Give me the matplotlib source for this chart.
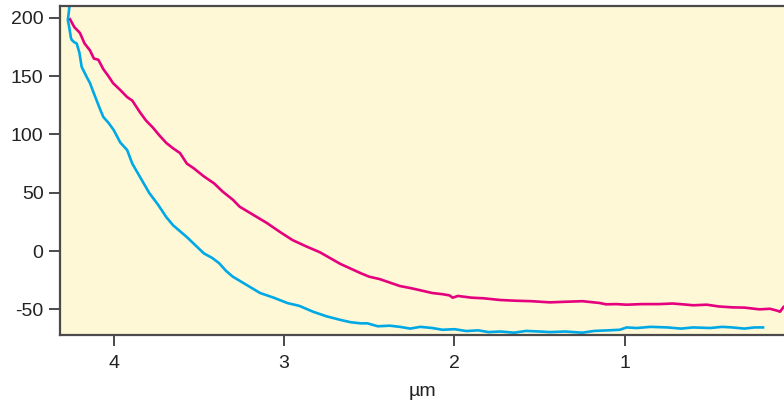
import matplotlib
matplotlib.use("Agg")
import matplotlib.pyplot as plt

plt.rcParams['font.family'] = ['Liberation Sans', 'DejaVu Sans']
plt.rcParams['axes.unicode_minus'] = False

# profile traces, distance in um vs height
magenta_x = [4.255, 4.23, 4.197, 4.17, 4.138, 4.115, 4.089, 4.06, 4.03, 4.003,
             3.96, 3.92, 3.89, 3.845, 3.81, 3.77, 3.73, 3.69, 3.65, 3.61,
             3.57, 3.53, 3.47, 3.41, 3.36, 3.30, 3.26, 3.18, 3.10, 3.02,
             2.95, 2.87, 2.79, 2.73, 2.67, 2.61, 2.55, 2.50, 2.44, 2.38,
             2.32, 2.25, 2.19, 2.13, 2.07, 2.03, 2.01, 1.98, 1.90, 1.83,
             1.73, 1.64, 1.55, 1.44, 1.35, 1.25, 1.15, 1.11, 1.05, 0.99,
             0.90, 0.80, 0.72, 0.66, 0.60, 0.52, 0.45, 0.37, 0.30, 0.21,
             0.15, 0.11, 0.09, 0.07]
magenta_y = [198.7, 192, 187, 178, 172, 165, 164, 156, 150, 144,
             138, 132, 129, 119, 112, 106, 99, 92.6, 88, 84,
             75, 71, 64, 58, 51, 44, 38, 31, 24, 16,
             9.4, 4, -1, -6, -11, -15, -19, -22, -24, -27,
             -30, -32, -34, -36, -37, -38, -40, -38.5, -40, -40.5,
             -42, -42.6, -43, -44, -43.5, -43, -44.5, -45.7, -45.5, -46,
             -45.5, -45.5, -45, -45.7, -46.5, -46, -47.5, -48.3, -48.5, -50,
             -49.5, -51, -52, -48]

cyan_x = [4.255, 4.262, 4.268, 4.26, 4.25, 4.245, 4.23, 4.216, 4.20, 4.187,
          4.16, 4.138, 4.12, 4.10, 4.08, 4.06, 4.03, 4.00, 3.96, 3.92,
          3.89, 3.845, 3.79, 3.74, 3.69, 3.65, 3.61, 3.57, 3.52, 3.47,
          3.42, 3.38, 3.34, 3.30, 3.22, 3.14, 3.06, 2.98, 2.91, 2.83,
          2.75, 2.67, 2.61, 2.55, 2.51, 2.45, 2.38, 2.32, 2.26, 2.20,
          2.13, 2.07, 2.00, 1.93, 1.86, 1.80, 1.73, 1.65, 1.58, 1.50,
          1.44, 1.35, 1.25, 1.18, 1.10, 1.03, 0.99, 0.93, 0.85, 0.75,
          0.67, 0.60, 0.50, 0.43, 0.37, 0.30, 0.24, 0.19]
cyan_y = [215, 205, 198, 192, 183, 181, 179, 178, 170, 158,
          150, 144, 137, 129.5, 122, 115, 110, 104, 93, 86.6,
          75, 63.6, 49.7, 40, 29, 22, 17, 12, 5, -2,
          -6, -10.5, -17, -22, -29, -36, -40, -44.6, -47, -52,
          -56, -59, -61, -62, -62, -64.5, -64, -65, -66.5, -65,
          -66, -67.5, -67, -68.6, -68, -69.5, -69, -70, -68.5, -69,
          -69.5, -69, -70, -68.5, -68, -67.5, -65.5, -66, -65, -65.5,
          -66.5, -65.5, -66, -65, -65.5, -66.5, -65.5, -65.5]

x_ticks = [4, 3, 2, 1]
y_ticks = [-50, 0, 50, 100, 150, 200]

fig = plt.figure(figsize=(7.84, 4.05), dpi=100)
ax = fig.add_axes([0.0765, 0.1728, 0.9235, 0.8136])
ax.set_facecolor('#FEF8D6')

ax.plot(magenta_x, magenta_y, color='#E5007D', lw=1.9, solid_joinstyle='round')
ax.plot(cyan_x, cyan_y, color='#00A9E6', lw=1.9, solid_joinstyle='round')

ax.set_xlim(4.314, 0.067)
ax.set_ylim(-72.0, 210.5)
ax.set_xticks(x_ticks)
ax.set_yticks(y_ticks)

for side in ['left', 'bottom', 'top']:
    ax.spines[side].set_color('#4a4a4a')
    ax.spines[side].set_linewidth(1.6)
ax.spines['right'].set_visible(False)

ax.tick_params(axis='both', direction='out', length=7.8, width=1.4,
               color='#4a4a4a', labelsize=14, labelcolor='#222222')
ax.tick_params(axis='x', pad=6.5)
ax.tick_params(axis='y', pad=4)

ax.set_xlabel('µm', fontsize=14, color='#222222', labelpad=8)

fig.savefig('out.png', dpi=100)
